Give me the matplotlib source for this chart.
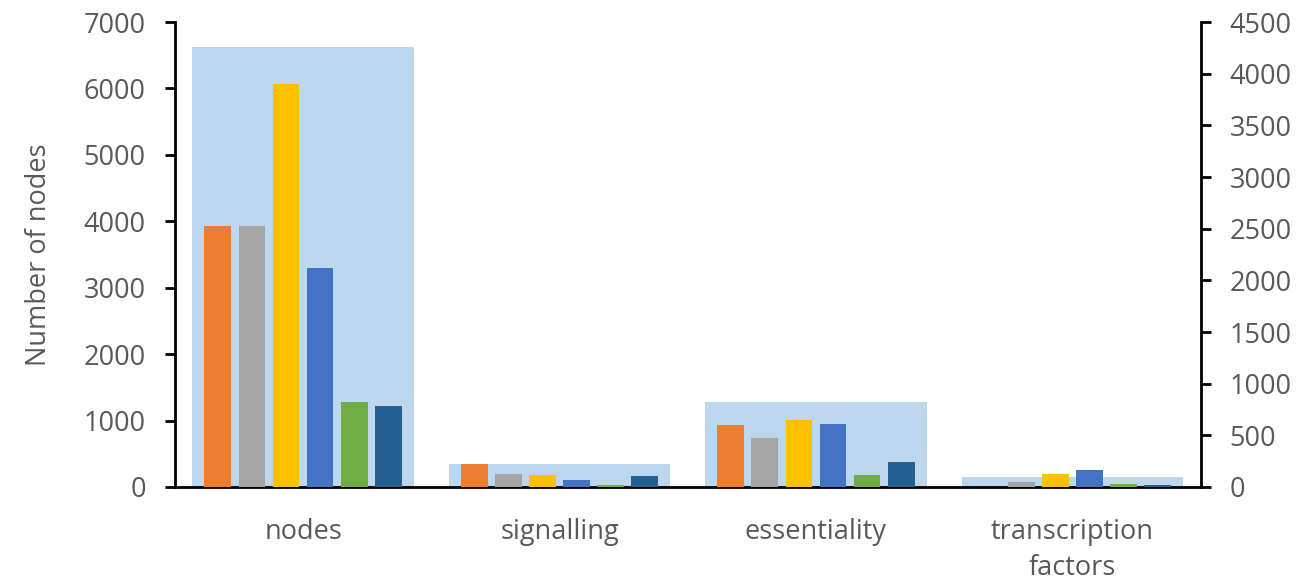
import matplotlib
matplotlib.use("Agg")
import matplotlib.pyplot as plt
import numpy as np

plt.rcParams['font.family'] = ['Open Sans', 'DejaVu Sans']

categories = ['nodes', 'signalling', 'essentiality', 'transcription\nfactors']

# totals per category (left axis)
totals = [6630, 351, 1275, 155]

# per-source counts (right axis)
orange = [2528, 225, 600, 0]
grey = [2528, 126, 474, 51]
yellow = [3901, 113, 648, 126]
blue = [2123, 68, 613, 165]
green = [822, 16, 113, 29]
darkblue = [782, 103, 239, 16]

series = [orange, grey, yellow, blue, green, darkblue]
colors = ['#ED7D31', '#A5A5A5', '#FFC000', '#4472C4', '#70AD47', '#255E91']

txt = '#595959'
fs = 19.5

fig = plt.figure(figsize=(13.01, 5.81), dpi=100)
ax = fig.add_axes([0.1344, 0.1618, 0.7884, 0.8003])
ax2 = ax.twinx()

x = np.arange(len(categories))
ax.bar(x, totals, width=0.863, color='#BDD7EE')

step = 0.133
w = 0.104
for i, (vals, c) in enumerate(zip(series, colors)):
    ax2.bar(x + (i - 2.5) * step, vals, width=w, color=c)

ax.set_xlim(-0.5, 3.5)
ax.set_ylim(0, 7000)
ax2.set_ylim(0, 4500)
ax.set_yticks(np.arange(0, 7001, 1000))
ax2.set_yticks(np.arange(0, 4501, 500))
ax.set_xticks(x)
ax.set_xticklabels(categories)

for a in (ax, ax2):
    a.spines['top'].set_visible(False)
    for s in a.spines.values():
        s.set_linewidth(2)
        s.set_color('black')
ax2.spines['left'].set_visible(False)
ax2.spines['bottom'].set_visible(False)
ax.spines['right'].set_visible(False)

ax.tick_params(axis='y', direction='out', length=7, width=2, labelsize=fs,
               labelcolor=txt, pad=14)
ax2.tick_params(axis='y', direction='out', length=7, width=2, labelsize=fs,
                labelcolor=txt, pad=14)
ax.tick_params(axis='x', length=0, labelsize=fs, labelcolor=txt, pad=22)
for lab in ax.get_xticklabels():
    lab.set_linespacing(1.38)

ax.set_ylabel('Number of nodes', fontsize=fs, color=txt, labelpad=22)

fig.savefig('out.png', dpi=100)
